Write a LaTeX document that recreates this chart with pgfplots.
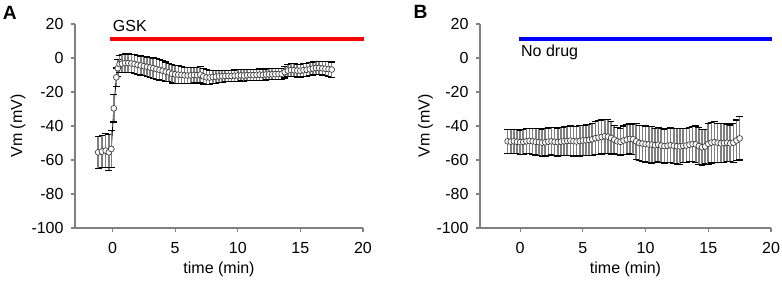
\documentclass[border=0pt]{standalone}
\usepackage{pgfplots}
\pgfplotsset{compat=1.18}
\usepackage{pgfplotstable}
\usepackage{fontspec}
\setmainfont{Liberation Sans}

\pgfplotstableread{
x y e
-1.15 -55.5 9.5
-0.85 -55.0 9.5
-0.55 -54.5 10
-0.3 -55.5 10.5
-0.1 -53.5 11
0.1 -29.6 8
0.3 -11.4 5.5
0.42 -6.0 5
0.56 -3.6 5
0.75 -3.3 5.3
1.0 -3.0 5.3
1.25 -3.0 5.3
1.5 -3.2 5.3
1.75 -3.5 5.4
2.0 -4.0 5.5
2.25 -4.4 5.6
2.5 -4.8 5.7
2.75 -5.2 5.8
3.0 -5.6 6
3.25 -6.0 6
3.5 -6.5 6
3.75 -7.0 6
4.0 -7.5 5.8
4.25 -8.0 5.6
4.5 -8.5 5.4
4.75 -9.3 5.4
5.0 -9.6 5.4
5.25 -9.8 5.2
5.5 -9.9 5.0
5.75 -10.2 4.8
6.0 -10.3 4.7
6.25 -10.2 4.6
6.5 -10.0 4.6
6.75 -10.1 4.6
7.0 -9.8 4.6
7.25 -10.8 4.5
7.5 -11.4 4.4
7.75 -11.5 4.2
8.0 -11.2 4.0
8.25 -11.0 3.8
8.5 -10.8 3.6
8.75 -10.7 3.5
9.0 -10.6 3.4
9.25 -10.5 3.3
9.5 -10.6 3.3
9.75 -10.4 3.3
10.0 -10.3 3.3
10.25 -10.2 3.3
10.5 -10.3 3.3
10.75 -10.1 3.3
11.0 -10.0 3.3
11.25 -10.1 3.3
11.5 -9.9 3.3
11.75 -9.8 3.3
12.0 -9.9 3.3
12.25 -9.7 3.2
12.5 -9.6 3.2
12.75 -9.6 3.2
13.0 -9.5 3.1
13.25 -9.4 3.1
13.5 -9.3 3.2
13.75 -8.3 3.5
14.0 -7.4 3.6
14.25 -7.1 3.7
14.5 -7.2 3.8
14.75 -7.4 3.8
15.0 -7.5 3.8
15.25 -7.2 3.8
15.5 -6.9 3.8
15.75 -6.6 3.8
16.0 -6.2 3.8
16.25 -5.9 3.8
16.5 -5.9 3.8
16.75 -6.1 3.9
17.0 -6.3 4.1
17.25 -6.5 4.3
17.5 -6.8 4.5
}\dataA

\pgfplotstableread{
x y e
-1.0 -49.0 7.0
-0.75 -49.2 7.0
-0.5 -49.0 7.0
-0.25 -49.3 7.1
0.0 -49.5 7.2
0.25 -49.4 7.3
0.5 -49.0 7.4
0.75 -48.8 7.5
1.0 -49.0 7.6
1.25 -49.3 7.8
1.5 -49.5 8.0
1.75 -49.8 8.0
2.0 -49.6 8.0
2.25 -49.2 8.0
2.5 -49.0 8.1
2.75 -49.3 8.2
3.0 -49.5 8.2
3.25 -49.2 8.3
3.5 -49.0 8.4
3.75 -48.8 8.5
4.0 -48.6 8.6
4.25 -48.9 8.7
4.5 -49.1 8.8
4.75 -48.8 8.9
5.0 -48.5 9.0
5.25 -48.4 9.0
5.5 -48.2 9.2
5.75 -47.8 9.5
6.0 -47.2 9.8
6.25 -46.8 10.0
6.5 -46.5 10.0
6.75 -46.0 10.0
7.0 -46.3 10.0
7.25 -47.0 9.5
7.5 -48.0 8.5
7.75 -49.0 8.0
8.0 -49.3 8.0
8.25 -48.5 8.5
8.5 -48.0 8.7
8.75 -47.6 8.8
9.0 -47.8 9.0
9.25 -49.0 10.5
9.5 -50.0 10.5
9.75 -50.3 10.5
10.0 -50.6 10.6
10.25 -50.8 10.7
10.5 -51.0 10.8
10.75 -51.3 10.0
11.0 -51.0 10.0
11.25 -51.5 10.0
11.5 -51.8 10.0
11.75 -51.6 10.0
12.0 -51.3 10.2
12.25 -51.6 10.3
12.5 -51.9 10.4
12.75 -52.0 10.5
13.0 -51.7 10.0
13.25 -51.5 10.0
13.5 -51.0 10.0
13.75 -50.6 10.5
14.0 -50.8 10.8
14.25 -51.8 10.8
14.5 -52.5 10.5
14.75 -52.0 10.0
15.0 -50.5 12.0
15.25 -49.8 12.0
15.5 -49.5 12.0
15.75 -49.8 11.5
16.0 -50.2 11.5
16.25 -50.0 11.5
16.5 -49.8 11.0
16.75 -50.2 10.8
17.0 -49.8 11.5
17.25 -48.5 12.0
17.5 -47.3 12.7
}\dataB

\pgfplotsset{
  panel/.style={
    scale only axis,
    height=102pt,
    ymin=-100, ymax=20,
    xmax=20,
    axis x line*=bottom,
    axis y line*=left,
    axis line style={black!50, line width=0.6pt},
    tick style={black!50, line width=0.6pt},
    tick align=outside,
    major tick length=2.2pt,
    xtick={0,5,10,15,20},
    xticklabels={0,5,10,15,20},
    ytick={-100,-80,-60,-40,-20,0,20},
    yticklabels={-100,-80,-60,-40,-20,0,20},
    ticklabel style={font=\fontsize{8}{9.5}\selectfont, text=black},
    xticklabel style={yshift=-1.6pt},
    label style={font=\fontsize{8}{9.5}\selectfont},
    xlabel={time (min)},
    ylabel={Vm (mV)},
    x label style={at={(axis description cs:0.5,-0.205)}, anchor=center},
    clip=false,
  },
  dataplot/.style={
    black, line width=0.4pt,
    mark=*, mark size=1.45pt,
    mark options={fill=white, draw=black!75, line width=0.35pt},
    error bars/.cd, y dir=both, y explicit,
    error bar style={black!50, line width=0.8pt},
    error mark options={rotate=90, black, mark size=1.7pt, line width=0.6pt},
  },
}

\begin{document}
\begin{tikzpicture}
\useasboundingbox (-37.5pt,-27.5pt) rectangle (353.5pt,114pt);

\begin{axis}[panel, width=144pt, xmin=-3,
  y label style={at={(axis description cs:-0.198,0.5)}, anchor=center}]
\addplot[red, line width=2pt, line cap=butt] coordinates {(-0.24,11.2) (20.1,11.2)};
\addplot[dataplot] table[x=x, y=y, y error=e] {\dataA};
\node[anchor=base west, inner sep=0pt, font=\fontsize{8}{9.5}\selectfont] at (axis cs:0,15.3) {GSK};
\end{axis}

\begin{axis}[panel, width=145.5pt, xmin=-3.2, at={(202.5pt,0pt)}, anchor=south west,
  y label style={at={(axis description cs:-0.187,0.5)}, anchor=center}]
\addplot[blue, line width=2pt, line cap=butt] coordinates {(-0.1,11.2) (20.1,11.2)};
\addplot[dataplot] table[x=x, y=y, y error=e] {\dataB};
\node[anchor=base west, inner sep=0pt, font=\fontsize{8}{9.5}\selectfont] at (axis cs:0.05,0.6) {No drug};
\end{axis}

\node[font=\fontsize{9.6}{11}\selectfont\bfseries] at (-32.6pt,107.7pt) {A};
\node[font=\fontsize{9.6}{11}\selectfont\bfseries] at (172.75pt,108.1pt) {B};
\end{tikzpicture}
\end{document}
